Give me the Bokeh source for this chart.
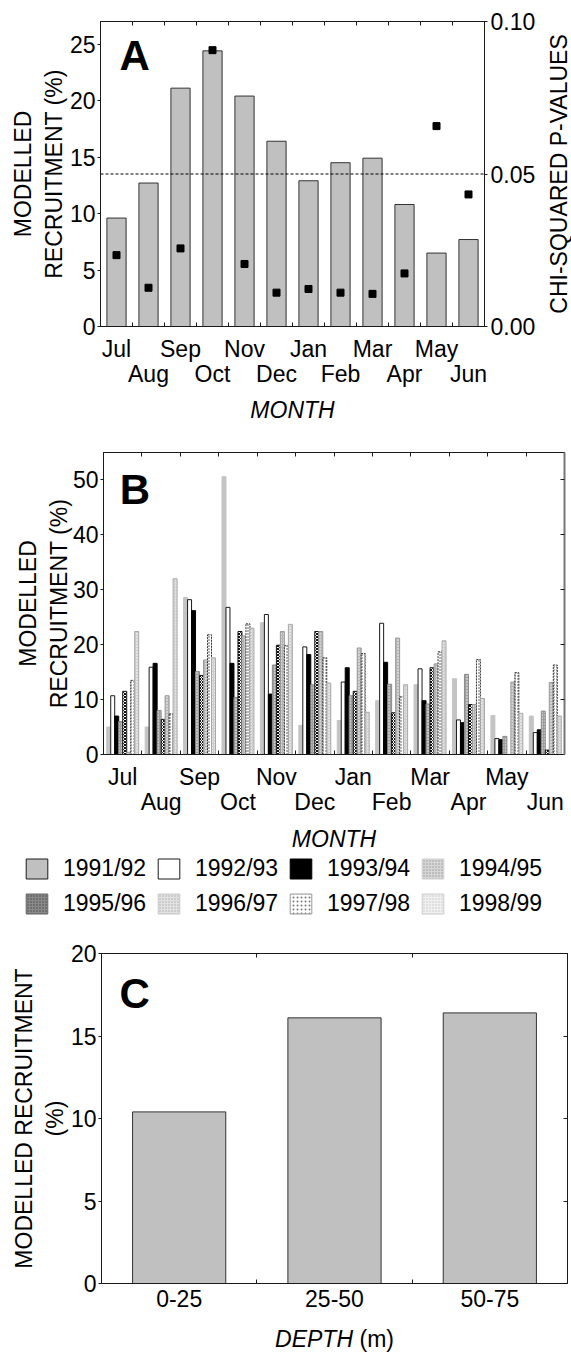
import math
from bokeh.plotting import figure
from bokeh.models import (Range1d, LinearAxis, FixedTicker, Span, Label, Legend,
                          LegendItem, ColumnDataSource, PrintfTickFormatter)
from bokeh.layouts import column, row
from bokeh.transform import dodge
from bokeh.embed import file_html
from bokeh.resources import INLINE

FONT = "Liberation Sans"
FS = "23px"
INK = "#1a1a1a"

# ---------------- data ----------------
months = ["Jul", "Aug", "Sep", "Oct", "Nov", "Dec", "Jan", "Feb", "Mar", "Apr", "May", "Jun"]
recruitment_month = [9.6, 12.7, 21.1, 24.4, 20.4, 16.4, 12.9, 14.5, 14.9, 10.8, 6.5, 7.7]
chi_p_values = [0.0234, 0.0127, 0.0256, 0.0906, 0.0205, 0.0111, 0.0123, 0.0111, 0.0107, 0.0174, 0.0657, 0.0433]
p_threshold = 0.05

seasons = ["1991/92", "1992/93", "1993/94", "1994/95", "1995/96", "1996/97", "1997/98", "1998/99"]
rec_1991_92 = [5.0, 5.0, 28.6, 50.6, 24.0, 5.3, 6.2, 9.8, 12.7, 13.8, 7.1, 7.0]
rec_1992_93 = [10.7, 15.9, 28.2, 26.8, 25.5, 19.6, 13.2, 23.9, 15.6, 6.3, 2.9, 4.0]
rec_1993_94 = [7.0, 16.6, 26.2, 16.6, 11.0, 18.2, 15.8, 16.8, 9.8, 5.8, 2.7, 4.5]
rec_1994_95 = [6.0, 8.0, 15.1, 10.4, 16.3, 12.7, 10.7, 12.8, 9.2, 14.6, 3.3, 7.9]
rec_1995_96 = [11.5, 6.4, 14.4, 22.4, 19.9, 22.4, 11.5, 7.6, 15.8, 9.1, 0.0, 0.8]
rec_1996_97 = [0.4, 10.7, 17.2, 21.6, 22.4, 22.4, 19.4, 21.2, 16.5, 9.1, 13.2, 13.1]
rec_1997_98 = [13.5, 7.4, 21.8, 23.8, 19.8, 17.6, 18.4, 10.5, 18.7, 17.3, 14.9, 16.3]
rec_1998_99 = [22.4, 32.0, 17.6, 23.0, 23.7, 13.0, 7.7, 12.7, 20.7, 10.2, 7.5, 7.0]

depth_classes = ["0-25", "25-50", "50-75"]
recruitment_depth = [10.4, 16.1, 16.4]

a_left_ticks = [0, 5, 10, 15, 20, 25]
a_right_ticks = [0.0, 0.05, 0.10]
b_left_ticks = [0, 10, 20, 30, 40, 50]
c_left_ticks = [0, 5, 10, 15, 20]


# ---------------- helpers ----------------
def base_fig(width, height, xr, yr, left, right, top, bottom):
    p = figure(width=width, height=height, x_range=xr, y_range=yr,
               x_axis_type=None, y_axis_type=None, output_backend="svg",
               toolbar_location=None, min_border_left=left, min_border_right=right,
               min_border_top=top, min_border_bottom=bottom, frame_align=False)
    p.outline_line_color = INK
    p.outline_line_width = 1
    p.background_fill_color = "white"
    p.border_fill_color = "white"
    return p


def strip_fig(width, height, xr, yr):
    p = figure(width=width, height=height, x_range=xr, y_range=yr,
               x_axis_type=None, y_axis_type=None, output_backend="svg",
               toolbar_location=None, min_border=0, frame_align=False)
    p.outline_line_color = None
    p.background_fill_color = "white"
    p.border_fill_color = "white"
    return p


def text_style(ax):
    ax.major_label_text_font = FONT
    ax.major_label_text_font_size = FS
    ax.major_label_text_color = "black"
    ax.axis_label_text_font = FONT
    ax.axis_label_text_font_size = FS
    ax.axis_label_text_font_style = "normal"
    ax.axis_label_text_color = "black"
    ax.axis_line_color = INK
    ax.major_tick_line_color = INK
    ax.minor_tick_line_color = INK


def mirror_axis(p, place, ticks, color=INK, width=1):
    ax = LinearAxis(ticker=FixedTicker(ticks=ticks))
    ax.axis_line_color = color
    ax.axis_line_width = width
    ax.major_tick_line_color = INK
    ax.major_tick_in = 4
    ax.major_tick_out = 0
    ax.minor_tick_line_color = None
    ax.major_label_overrides = {t: "" for t in ticks}
    ax.major_label_standoff = 0
    ax.major_label_text_font_size = "1px"
    p.add_layout(ax, place)


def value_axis(p, ticks, label, standoff=2, label_standoff=0):
    ax = LinearAxis(ticker=FixedTicker(ticks=ticks), axis_label=label)
    text_style(ax)
    ax.major_tick_in = 0
    ax.major_tick_out = 3
    ax.minor_tick_line_color = None
    ax.major_label_standoff = standoff
    ax.axis_label_standoff = label_standoff
    p.add_layout(ax, "left")
    return ax


def month_axes(p, labels, title=None):
    n = len(labels)
    centers = list(range(n))
    bounds = [c - 0.5 for c in centers] + [n - 0.5]
    row1 = centers[0::2]
    row2 = centers[1::2]
    ax1 = LinearAxis(ticker=FixedTicker(ticks=row1, minor_ticks=bounds))
    text_style(ax1)
    ax1.major_label_overrides = {c: labels[c] for c in row1}
    ax1.major_tick_in = 0
    ax1.major_tick_out = 0
    ax1.minor_tick_in = 4
    ax1.minor_tick_out = 0
    ax1.major_label_standoff = 9
    p.add_layout(ax1, "below")
    ax2 = LinearAxis(ticker=FixedTicker(ticks=row2))
    text_style(ax2)
    ax2.major_label_overrides = {c: labels[c] for c in row2}
    ax2.axis_line_color = None
    ax2.major_tick_line_color = None
    ax2.minor_tick_line_color = None
    ax2.major_tick_in = 0
    ax2.major_tick_out = 0
    ax2.major_label_standoff = -4
    if title:
        ax2.axis_label = title
        ax2.axis_label_standoff = 7
        ax2.axis_label_text_font_style = "italic"
    p.add_layout(ax2, "below")
    mirror_axis(p, "above", bounds)


def panel_letter(p, x, y, letter):
    p.add_layout(Label(x=x, y=y, text=letter, text_font=FONT, text_font_size="42px",
                       text_font_style="bold", text_color="black",
                       text_baseline="alphabetic", text_align="left"))


# ---------------- panel A ----------------
n_m = len(months)
A_H = 440
pA = base_fig(545, A_H, Range1d(-0.5, n_m - 0.5), Range1d(0, 27), 100, 61, 21, 114)
pA.extra_y_ranges = {"p": Range1d(0, 0.1)}
src_a = ColumnDataSource(dict(x=list(range(n_m)), rec=recruitment_month, p=chi_p_values))
pA.vbar(x="x", top="rec", width=0.6, source=src_a, fill_color="#c0c0c0",
        line_color="#333333", line_width=1)
pA.add_layout(Span(location=p_threshold, dimension="width", y_range_name="p",
                   line_color="black", line_dash="3 2", line_width=1))
pA.scatter(x="x", y="p", source=src_a, y_range_name="p", marker="square", size=7,
           fill_color="black", line_color="black")
value_axis(pA, a_left_ticks, "MODELLED\nRECRUITMENT (%)")
axr = LinearAxis(y_range_name="p", ticker=FixedTicker(ticks=a_right_ticks),
                 formatter=PrintfTickFormatter(format="%.2f"))
text_style(axr)
axr.major_tick_in = 0
axr.major_tick_out = 3
axr.minor_tick_line_color = None
axr.major_label_standoff = 3
pA.add_layout(axr, "right")
month_axes(pA, months, "MONTH")
panel_letter(pA, 0.09, 24.0, "A")

# right-hand title of panel A, reading upwards
R_W = 26
pR = strip_fig(R_W, A_H, Range1d(0, R_W), Range1d(0, A_H))
pR.add_layout(Label(x=R_W / 2, y=A_H - 173.5, text="CHI-SQUARED P-VALUES", angle=math.pi / 2,
                    text_font=FONT, text_font_size=FS, text_align="center",
                    text_baseline="middle", text_color="black"))

# ---------------- panel B ----------------
series_b = [rec_1991_92, rec_1992_93, rec_1993_94, rec_1994_95,
            rec_1995_96, rec_1996_97, rec_1997_98, rec_1998_99]
bar_styles = [
    dict(fill_color="#c4c4c4", line_color="#c4c4c4"),
    dict(fill_color="white", line_color=INK),
    dict(fill_color="black", line_color="black"),
    dict(fill_color="#9e9e9e", hatch_pattern="dot", hatch_color="white", hatch_scale=3, line_color="#8a8a8a"),
    dict(fill_color="white", hatch_pattern="diagonal_cross", hatch_color="#111111", hatch_scale=3, line_color="#111111"),
    dict(fill_color="#b5b5b5", hatch_pattern="dot", hatch_color="white", hatch_scale=3, line_color="#9a9a9a"),
    dict(fill_color="white", hatch_pattern="dot", hatch_color="#444444", hatch_scale=3, line_color="#333333", line_dash="2 1"),
    dict(fill_color="#cfcfcf", hatch_pattern="dot", hatch_color="white", hatch_scale=3, line_color="#a8a8a8"),
]
legend_styles = [
    dict(fill_color="#c0c0c0", line_color=INK),
    dict(fill_color="white", line_color=INK),
    dict(fill_color="black", line_color="black"),
    dict(fill_color="#d6d6d6", hatch_pattern="dot", hatch_color="#999999", hatch_scale=3, line_color="#d0d0d0"),
    dict(fill_color="#8a8a8a", hatch_pattern="dot", hatch_color="#444444", hatch_scale=3, line_color="#666666"),
    dict(fill_color="#e2e2e2", hatch_pattern="dot", hatch_color="#aaaaaa", hatch_scale=3, line_color="#c8c8c8"),
    dict(fill_color="white", hatch_pattern="dot", hatch_color="#777777", hatch_scale=4, line_color="#999999"),
    dict(fill_color="#f0f0f0", hatch_pattern="dot", hatch_color="#c4c4c4", hatch_scale=3, line_color="#cccccc"),
]

pB = base_fig(571, 384, Range1d(-0.5, n_m - 0.5), Range1d(0, 55), 103, 7, 12, 70)
pB.outline_line_color = "#555555"
src_b = ColumnDataSource(dict(x=list(range(n_m)), **{f"s{j}": v for j, v in enumerate(series_b)}))
bar_w = 0.104
for j in range(len(series_b)):
    off = (j - (len(series_b) - 1) / 2) * bar_w
    pB.vbar(x=dodge("x", off), top=f"s{j}", width=bar_w, source=src_b, line_width=1, **bar_styles[j])
value_axis(pB, b_left_ticks, "MODELLED\nRECRUITMENT (%)", label_standoff=-2)
mirror_axis(pB, "right", b_left_ticks[1:], color="#777777", width=2)
month_axes(pB, months)
panel_letter(pB, -0.08, 48.3, "B")

# ---------------- MONTH title of B + legend strip ----------------
# the strip's ranges lie far beyond the data, so its bars stay out of view
L_H = 101
X0, Y0 = 1000, 1000
pL = strip_fig(571, L_H, Range1d(X0, X0 + 571), Range1d(Y0, Y0 + L_H))
pL.add_layout(Label(x=X0 + 333.5, y=Y0 + L_H - 14, text="MONTH", text_font=FONT, text_font_size=FS,
                    text_font_style="italic", text_align="center", text_baseline="middle",
                    text_color="black"))
items = []
for j, s in enumerate(seasons):
    r = pL.vbar(x="x", top=f"s{j}", width=bar_w, source=src_b, line_width=1, **legend_styles[j])
    items.append(LegendItem(label=s, renderers=[r]))
leg = Legend(items=items, orientation="horizontal", ncols=4, location=(23, 8),
             padding=0, margin=0, spacing=8, glyph_width=27, glyph_height=25,
             label_standoff=13, label_height=26, label_width=84,
             label_text_font=FONT, label_text_font_size=FS, label_text_color="black",
             border_line_color=None, background_fill_alpha=0)
pL.add_layout(leg, "center")

# ---------------- panel C ----------------
n_d = len(depth_classes)
pC = base_fig(571, 400, Range1d(-0.5, n_d - 0.5), Range1d(0, 20), 101, 4, 28, 42)
src_c = ColumnDataSource(dict(x=list(range(n_d)), rec=recruitment_depth))
pC.vbar(x="x", top="rec", width=0.6, source=src_c, fill_color="#c0c0c0",
        line_color="#333333", line_width=1)
value_axis(pC, c_left_ticks, "MODELLED RECRUITMENT\n(%)")
mirror_axis(pC, "right", c_left_ticks[1:-1])
bounds_c = [c - 0.5 for c in range(n_d)] + [n_d - 0.5]
axc = LinearAxis(ticker=FixedTicker(ticks=list(range(n_d)), minor_ticks=bounds_c))
text_style(axc)
axc.major_label_overrides = {c: depth_classes[c] for c in range(n_d)}
axc.major_tick_in = 0
axc.major_tick_out = 0
axc.minor_tick_in = 4
axc.minor_tick_out = 0
axc.major_label_standoff = 6
pC.add_layout(axc, "below")
mirror_axis(pC, "above", bounds_c)
panel_letter(pC, 0.116 - 0.5, 17.6, "C")

# ---------------- DEPTH (m) strip ----------------
D_H = 28
pD = strip_fig(571, D_H, Range1d(0, 571), Range1d(0, D_H))
pD.add_layout(Label(x=352.5, y=D_H - 13, text="DEPTH", text_font=FONT, text_font_size=FS,
                    text_font_style="italic", text_align="right", text_baseline="middle",
                    text_color="black"))
pD.add_layout(Label(x=359, y=D_H - 13, text="(m)", text_font=FONT, text_font_size=FS,
                    text_align="left", text_baseline="middle", text_color="black"))

layout = column(row(pA, pR, spacing=0), pB, pL, pC, pD, spacing=0)
open("out.html", "w").write(file_html(layout, INLINE))
